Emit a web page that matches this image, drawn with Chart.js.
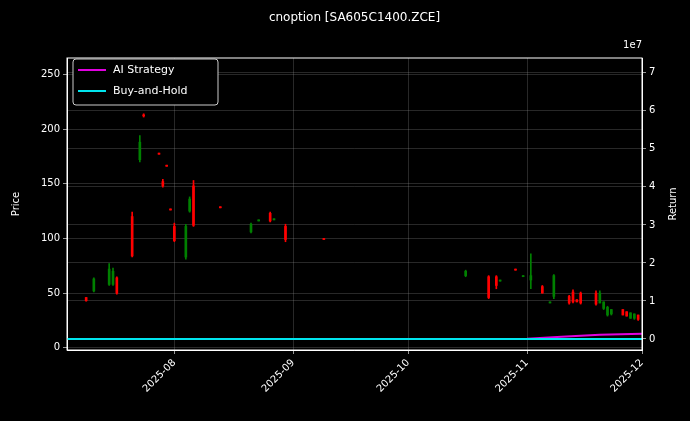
<!DOCTYPE html>
<html><head><meta charset="utf-8">
<script src="https://cdn.jsdelivr.net/npm/chart.js@4.4.0/dist/chart.umd.min.js"></script>
<style>html,body{margin:0;background:#000}canvas{display:block}</style>
</head><body><div style="width:690px;height:421px"><canvas id="c"></canvas></div>
<script>
const candleDates=["2025-07-09","2025-07-11","2025-07-15","2025-07-16","2025-07-17","2025-07-21","2025-07-23","2025-07-24","2025-07-28","2025-07-29","2025-07-30","2025-07-31","2025-08-01","2025-08-04","2025-08-05","2025-08-06","2025-08-13","2025-08-21","2025-08-23","2025-08-26","2025-08-27","2025-08-30","2025-09-09","2025-10-16","2025-10-22","2025-10-24","2025-10-25","2025-10-29","2025-10-31","2025-11-02","2025-11-05","2025-11-07","2025-11-08","2025-11-12","2025-11-13","2025-11-14","2025-11-15","2025-11-19","2025-11-20","2025-11-21","2025-11-22","2025-11-23","2025-11-26","2025-11-27","2025-11-28","2025-11-29","2025-11-30"];
const opens =[46,52,58,58,64,120,172,213,178,152,167,127,111,83,125,148,129,106,116,123,117,111,100,66,65,65,61,72,65,62,56,41,47,47,51,44,50,50,41,36,30,31,35,33,27,27,30];
const closes=[43,63,72,70,50,84,188,212,177,148,166,126,98,111,136,112,128,113,117,116,118,99,99,70,46,57,62,71,66,66,50,42,66,41,42,42,41,40,50,42,37,35,30,29,32,31,26];
const highs =[46,64,77,73,65,124,194,214,178,154,167,127,114,113,138,153,129,114,117,124,118,113,100,71,66,66,62,72,66,86,57,42,67,48,53,44,51,52,52,42,38,35,35,33,32,31,30];
const lows  =[42.7,51,57,57,49,83,170,211,177,147,166,126,97,81,124,111,128,105,116,115,117,97,99,65,45,54,61,71,65,54,50,41,45,40,41,42,40,39,41,35,29,30,30,29,27,26,25];
const returnDates=["2025-07-04","2025-08-01","2025-09-01","2025-10-01","2025-11-01","2025-11-10","2025-11-20","2025-12-01"];
const aiReturn=[0,0,0,0,50000,600000,1100000,1400000];
const bhReturn=[0,0,0,0,0,0,0,0];
const xTickDates=["2025-08-01","2025-09-01","2025-10-01","2025-11-01","2025-12-01"];

const origin=Date.UTC(2025,6,4);
const day=s=>{const [y,m,d]=s.split('-').map(Number);return (Date.UTC(y,m-1,d)-origin)/864e5;};
const fmt=d=>{const t=new Date(origin+d*864e5);return t.getUTCFullYear()+'-'+String(t.getUTCMonth()+1).padStart(2,'0');};
const col=i=>closes[i]>=opens[i]?'#008000':'#ff0000';
const wick=candleDates.map((s,i)=>({x:day(s),y:[lows[i],highs[i]]}));
const body=candleDates.map((s,i)=>({x:day(s),y:[opens[i],closes[i]]}));
const F='DejaVu Sans';
Chart.defaults.font.family=F;Chart.defaults.color='#fff';
const grid={color:'rgba(150,150,150,0.45)',borderDash:[3,3],lineWidth:0.6,drawTicks:true,tickColor:'#fff',tickLength:4,offset:false};
new Chart(document.getElementById('c'),{
 data:{datasets:[
  {type:'bar',data:wick,backgroundColor:wick.map((_,i)=>col(i)),barThickness:1,grouped:false,yAxisID:'y',xAxisID:'x'},
  {type:'bar',data:body,backgroundColor:body.map((_,i)=>col(i)),barThickness:2,grouped:false,yAxisID:'y',xAxisID:'x',minBarLength:1},
  {type:'line',label:'Buy-and-Hold',data:returnDates.map((s,i)=>({x:day(s),y:bhReturn[i]})),borderColor:'#00e5ee',borderWidth:2,pointRadius:0,yAxisID:'y1'},
  {type:'line',label:'AI Strategy',data:returnDates.map((s,i)=>({x:day(s),y:aiReturn[i]})),borderColor:'#e000e0',borderWidth:2,pointRadius:0,yAxisID:'y1'}
 ]},
 options:{animation:false,responsive:true,maintainAspectRatio:false,
  layout:{padding:{top:58,left:0,right:0,bottom:0}},
  plugins:{legend:{display:false},tooltip:{enabled:false}},
  scales:{
   x:{type:'linear',offset:false,min:0,max:150,grid:grid,border:{color:'#fff'},
      afterBuildTicks:s=>{s.ticks=xTickDates.map(d=>({value:day(d)}));},
      afterFit:s=>{s.height=71;},
      ticks:{callback:v=>fmt(v),maxRotation:45,minRotation:45,font:{size:10},color:'#fff'}},
   y:{position:'left',min:-2,max:265,grid:grid,border:{color:'#fff'},
      afterBuildTicks:s=>{s.ticks=[0,50,100,150,200,250].map(v=>({value:v}));},
      afterFit:s=>{s.width=67;},
      ticks:{font:{size:10},color:'#fff'}},
   y1:{position:'right',min:-2900000,max:73900000,grid:{...grid},border:{color:'#fff'},
      afterBuildTicks:s=>{s.ticks=[0,1,2,3,4,5,6,7].map(v=>({value:v*1e7}));},
      afterFit:s=>{s.width=48;},
      ticks:{callback:v=>v/1e7,font:{size:10},color:'#fff'}}
  }},
 plugins:[{id:'deco',afterDraw(c){const g=c.ctx,a=c.chartArea;g.save();
  g.strokeStyle='#fff';g.lineWidth=1;g.strokeRect(a.left,a.top,a.right-a.left,a.bottom-a.top);
  g.fillStyle='#fff';g.font='12px '+F;g.textAlign='center';g.textBaseline='middle';
  g.fillText('cnoption [SA605C1400.ZCE]',(a.left+a.right)/2,18);
  g.font='10px '+F;g.textAlign='right';g.fillText('1e7',a.right,45);
  const cy=(a.top+a.bottom)/2;
  [['Price',16],['Return',673]].forEach(t=>{g.save();g.translate(t[1],cy);g.rotate(-Math.PI/2);g.textAlign='center';g.fillText(t[0],0,0);g.restore();});
  const lx=a.left+6,ly=a.top+1;g.fillStyle='#000';g.strokeStyle='#ccc';g.lineWidth=1;
  g.beginPath();g.roundRect(lx,ly,145,46,3);g.fill();g.stroke();
  [['AI Strategy','#e000e0'],['Buy-and-Hold','#00e5ee']].forEach((e,i)=>{const y=ly+11+i*21;
   g.strokeStyle=e[1];g.lineWidth=2;g.beginPath();g.moveTo(lx+5,y);g.lineTo(lx+33,y);g.stroke();
   g.fillStyle='#fff';g.textAlign='left';g.font='11px '+F;g.fillText(e[0],lx+40,y);});
  g.restore();}}]
});
</script></body></html>
